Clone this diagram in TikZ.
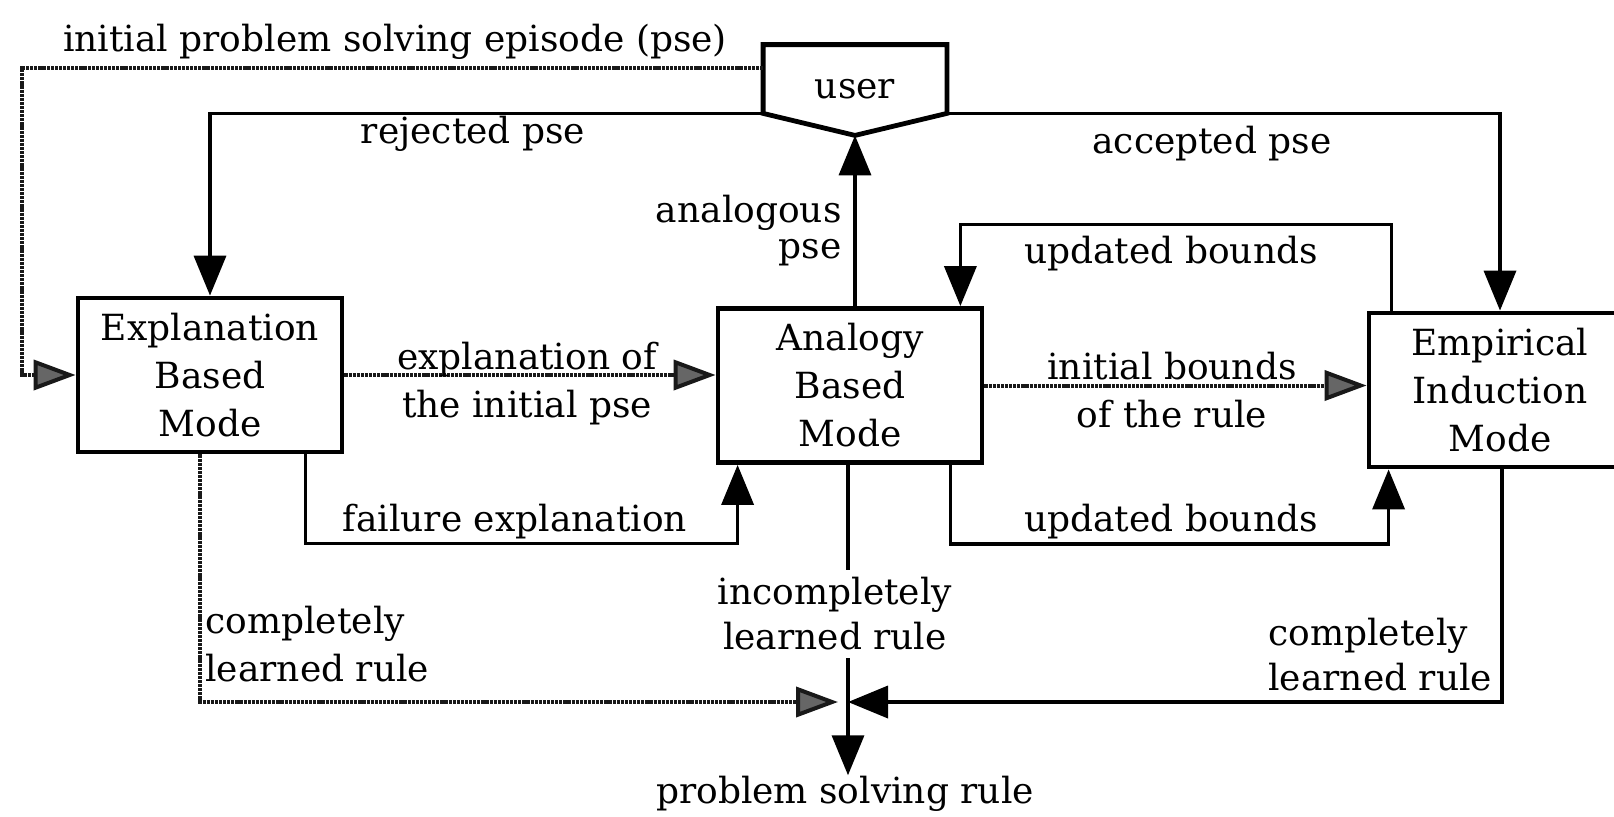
\documentclass[tikz,border=0pt]{standalone}
\usepackage{fontspec}
\setmainfont{DejaVu Serif}
\usetikzlibrary{arrows.meta}
\newcommand\dfont{\fontsize{18pt}{24pt}\selectfont}
\begin{document}
\begin{tikzpicture}[x=0.5pt, y=-0.5pt,
  box/.style={draw, line width=2.4pt, minimum width=132pt, minimum height=77pt,
              align=center, inner sep=0pt, font=\dfont},
  lbl/.style={font=\dfont, inner sep=0pt},
  plain/.style={line width=1.8pt},
  flow/.style={line width=1.8pt, -{Triangle[length=20pt,width=16pt]}},
  feedline/.style={line width=2pt, draw=black!90, dash pattern=on 1.6pt off 0.45pt},
  feed/.style={feedline, -{Triangle[length=21pt,width=15pt,fill=black!60,color=black!90]}},
]
\useasboundingbox (0,0) rectangle (1614,816);
\clip (0,0) rectangle (1614,816);
\fill[white] (0,0) rectangle (1614,816);

% the three learning modes
\node[box] (EBM) at (210,375) {Explanation\\Based\\Mode};
\node[box] (ABM) at (850,385.5) {Analogy\\Based\\Mode};
\node[box, minimum width=131pt] (EIM) at (1500,390) {Empirical\\Induction\\Mode};

% user: box with a pointed bottom
\node[minimum width=91.5pt, minimum height=34pt, inner sep=0pt] (user) at (855,79) {};
\coordinate (vtx) at ([yshift=-11pt]user.south);
\draw[line width=2.4pt, line join=miter]
  (user.north west) -- (user.north east) -- (user.south east) -- (vtx)
  -- (user.south west) -- cycle;
\node[lbl] (usertext) at ([yshift=-5pt]user.center) {user};

% initial problem solving episode
\node[lbl, anchor=base] (title) at (395,51) {initial problem solving episode (pse)};
\coordinate (lft) at (22,68);
\draw[feed] (user.west |- lft) -- (lft) |- (EBM.west);

% user feedback
\draw[flow] (user.south west) -| (EBM.north);
\node[lbl, anchor=base] (rej) at (473,143) {rejected pse};
\draw[flow] (user.south east) -| (EIM.north);
\node[lbl, anchor=base] (acc) at (1212,153) {accepted pse};

% analogy proposes a pse to the user
\draw[flow] (ABM.north -| vtx) -- (vtx);
\node[lbl, anchor=east, align=right, font=\fontsize{18pt}{18pt}\selectfont] (ana) at (842,231) {analogous\\pse};

% bounds fed back from induction to analogy
\draw[flow] ([xshift=12.5pt]EIM.north west) -- ++(0,-86) -| ([xshift=-12pt]ABM.north east);
\node[lbl, anchor=base] (ubt) at (1171,263) {updated bounds};

% forward flow between modes
\draw[feed] (EBM.east) -- (EBM.east -| ABM.west);
\node[lbl, align=center] (eip) at (527,383.5) {explanation of\\the initial pse};
\draw[feed] (ABM.east) -- (ABM.east -| EIM.west);
\node[lbl, align=center] (ibr) at (1172,390.5) {initial bounds\\of the rule};

\draw[flow] ([xshift=-19.5pt]EBM.south east) -- ++(0,89) -| ([xshift=11pt]ABM.south west);
\node[lbl, anchor=base] (fail) at (515,531) {failure explanation};
\draw[flow] ([xshift=-17pt]ABM.south east) -- ++(0,79) -| ([xshift=11pt]EIM.south west);
\node[lbl, anchor=base] (ubb) at (1171,531) {updated bounds};

% learned rules converge
\coordinate (jn) at (848,702);
\draw[plain] (ABM.south -| jn) -- (jn);
\node[lbl, fill=white, inner sep=4pt, align=center, font=\fontsize{18pt}{22.5pt}\selectfont]
  (inc) at (835,614) {incompletely\\learned rule};
\draw[feed, shorten >=5pt] ([xshift=-5pt]EBM.south) |- (jn);
\node[lbl, anchor=west, align=left] (cl1) at (205,644) {completely\\learned rule};
\draw[flow] ([xshift=1pt]EIM.south) |- (jn);
\node[lbl, anchor=west, align=left, font=\fontsize{18pt}{22.5pt}\selectfont]
  (cl2) at (1268,655) {completely\\learned rule};
\node[lbl, anchor=base] (psr) at (845,803) {problem solving rule};
\draw[flow] (jn) -- (jn |- psr.north);
\end{tikzpicture}
\end{document}
